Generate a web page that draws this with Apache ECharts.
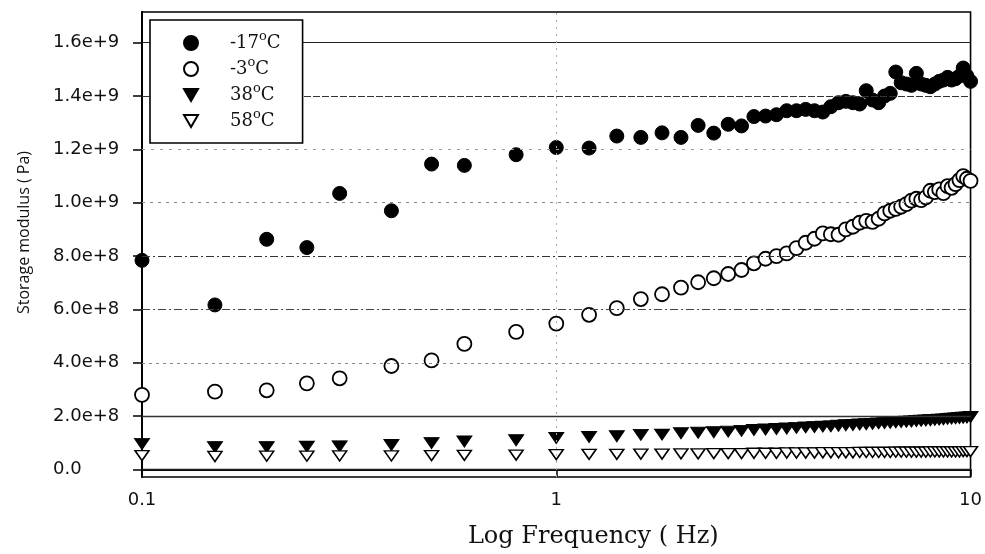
<!DOCTYPE html>
<html>
<head>
<meta charset="utf-8">
<script src="https://cdn.jsdelivr.net/npm/echarts@6/dist/echarts.min.js"></script>
<style>
html,body{margin:0;padding:0;background:#fff;}
#chart{width:985px;height:554px;}
</style>
</head>
<body>
<div id="chart"></div>
<script>
// Frequencies (Hz)
const freq = [0.1,0.15,0.2,0.25,0.3,0.4,0.5,0.6,0.8,
  1.0,1.2,1.4,1.6,1.8,2.0,2.2,2.4,2.6,2.8,3.0,
  3.2,3.4,3.6,3.8,4.0,4.2,4.4,4.6,4.8,5.0,
  5.2,5.4,5.6,5.8,6.0,6.2,6.4,6.6,6.8,7.0,
  7.2,7.4,7.6,7.8,8.0,8.2,8.4,8.6,8.8,9.0,
  9.2,9.4,9.6,9.8,10.0];

// Storage modulus (Pa)
const gMinus17 = [7.84e8,6.17e8,8.63e8,8.32e8,1.035e9,9.70e8,1.145e9,1.140e9,1.180e9,
  1.207e9,1.205e9,1.250e9,1.245e9,1.262e9,1.245e9,1.290e9,1.261e9,1.294e9,1.288e9,1.323e9,
  1.325e9,1.330e9,1.345e9,1.345e9,1.350e9,1.345e9,1.340e9,1.360e9,1.375e9,1.380e9,
  1.375e9,1.370e9,1.420e9,1.385e9,1.375e9,1.400e9,1.410e9,1.490e9,1.450e9,1.445e9,
  1.440e9,1.485e9,1.445e9,1.440e9,1.435e9,1.445e9,1.455e9,1.460e9,1.470e9,1.460e9,
  1.465e9,1.475e9,1.505e9,1.475e9,1.455e9];

const gMinus3 = [2.80e8,2.92e8,2.97e8,3.23e8,3.42e8,3.88e8,4.09e8,4.71e8,5.16e8,
  5.47e8,5.80e8,6.05e8,6.39e8,6.57e8,6.82e8,7.02e8,7.17e8,7.33e8,7.48e8,7.73e8,
  7.90e8,8.00e8,8.10e8,8.30e8,8.50e8,8.65e8,8.85e8,8.82e8,8.80e8,9.00e8,
  9.10e8,9.25e8,9.32e8,9.28e8,9.40e8,9.60e8,9.70e8,9.77e8,9.85e8,9.95e8,
  1.008e9,1.015e9,1.010e9,1.020e9,1.045e9,1.040e9,1.050e9,1.036e9,1.062e9,1.056e9,
  1.070e9,1.085e9,1.100e9,1.090e9,1.082e9];

const g38 = [9.6e7,8.4e7,8.4e7,8.6e7,8.7e7,9.2e7,9.9e7,1.05e8,1.10e8,
  1.18e8,1.22e8,1.25e8,1.30e8,1.31e8,1.36e8,1.38e8,1.40e8,1.42e8,1.45e8,1.48e8,
  1.50e8,1.52e8,1.54e8,1.56e8,1.58e8,1.59e8,1.61e8,1.62e8,1.64e8,1.66e8,
  1.67e8,1.69e8,1.70e8,1.71e8,1.73e8,1.74e8,1.75e8,1.77e8,1.78e8,1.79e8,
  1.80e8,1.82e8,1.83e8,1.84e8,1.85e8,1.86e8,1.87e8,1.88e8,1.90e8,1.91e8,
  1.92e8,1.93e8,1.94e8,1.95e8,1.97e8];

const g58 = [5.2e7,4.9e7,5.0e7,5.0e7,5.1e7,5.1e7,5.2e7,5.3e7,5.4e7,
  5.6e7,5.7e7,5.7e7,5.8e7,5.8e7,5.9e7,5.9e7,6.0e7,6.0e7,6.0e7,6.1e7,
  6.1e7,6.1e7,6.2e7,6.2e7,6.2e7,6.2e7,6.3e7,6.3e7,6.3e7,6.3e7,
  6.3e7,6.4e7,6.4e7,6.4e7,6.4e7,6.4e7,6.4e7,6.5e7,6.5e7,6.5e7,
  6.5e7,6.5e7,6.5e7,6.5e7,6.6e7,6.6e7,6.6e7,6.6e7,6.6e7,6.6e7,
  6.6e7,6.6e7,6.7e7,6.7e7,6.7e7];

const seriesNames = ['-17°C','-3°C','38°C','58°C'];

// Y tick values and labels
const yTickValues = [0,2e8,4e8,6e8,8e8,1.0e9,1.2e9,1.4e9,1.6e9];
const yTickLabels = ['0.0','2.0e+8','4.0e+8','6.0e+8','8.0e+8','1.0e+9','1.2e+9','1.4e+9','1.6e+9'];

// Gridline looks (per y tick, same order)
const gridLook = [
  {type:'solid', color:'#222', width:1.3},
  {type:'solid', color:'#333', width:1.3},
  {type:[3,4], color:'#888', width:1},
  {type:[8,3,2,3], color:'#444', width:1},
  {type:[8,3,2,3], color:'#333', width:1.2},
  {type:[3,5], color:'#888', width:1},
  {type:[3,6], color:'#999', width:1},
  {type:[7,2], color:'#333', width:1.2},
  {type:'solid', color:'#222', width:1.2}
];

const downTri = 'path://M0,0L10,0L5,8.66Z';

const chart = echarts.init(document.getElementById('chart'), null, {renderer:'canvas'});

function pairs(vals){ return freq.map((f,i)=>[f, vals[i]]); }

const gridLines = yTickValues.map((v,i)=>({yAxis:v, lineStyle:gridLook[i]}));
gridLines.push({xAxis:1, lineStyle:{type:[2,5], color:'#aaa', width:1}});

const option = {
  animation:false,
  backgroundColor:'#fff',
  grid:{left:142, right:12, top:12, bottom:74, show:true, borderColor:'#000', borderWidth:1.6, backgroundColor:'transparent'},
  xAxis:{
    type:'log', logBase:10, min:0.1, max:10,
    name:'Log Frequency ( Hz)', nameLocation:'middle', nameGap:48,
    nameTextStyle:{fontFamily:'DejaVu Serif', fontSize:24, color:'#111', padding:[0,0,0,74]},
    axisLine:{show:true, lineStyle:{color:'#000', width:1.8}},
    axisTick:{show:true, inside:false, length:7, lineStyle:{color:'#000', width:1.5}},
    minorTick:{show:false},
    axisLabel:{fontFamily:'DejaVu Sans', fontSize:18, color:'#111', margin:14},
    splitLine:{show:false}
  },
  yAxis:{
    type:'value', min:-2.8e7, max:1.715e9,
    name:'Storage modulus ( Pa)', nameLocation:'middle', nameGap:110, nameRotate:90,
    nameTextStyle:{fontFamily:'Open Sans', fontSize:16, color:'#111', padding:[0,0,0,24]},
    axisLine:{show:true, lineStyle:{color:'#000', width:2}},
    axisTick:{show:true, inside:false, length:9, customValues:yTickValues, lineStyle:{color:'#000', width:1.5}},
    axisLabel:{customValues:yTickValues, align:'left', margin:89, fontFamily:'DejaVu Sans', fontSize:18, color:'#111',
      formatter:function(v){ const k = yTickValues.indexOf(v); return k>=0 ? yTickLabels[k] : ''; }},
    splitLine:{show:false}
  },
  legend:{
    data:seriesNames,
    orient:'vertical', left:150, top:20,
    padding:[10,22,9,33],
    itemWidth:14, itemHeight:14, itemGap:0,
    backgroundColor:'#fff', borderColor:'#000', borderWidth:1.6,
    selectedMode:false,
    formatter:function(n){ return n.replace('°C','{sup|o}C'); },
    textStyle:{fontFamily:'DejaVu Serif', fontSize:18, color:'#111', lineHeight:26, padding:[0,0,0,27],
      rich:{sup:{fontFamily:'DejaVu Serif', fontSize:13, color:'#111', lineHeight:6, verticalAlign:'top'}}},
    z:10
  },
  series:[
    {type:'line', name:'grid', data:[], silent:true, z:1,
      markLine:{silent:true, symbol:['none','none'], label:{show:false}, animation:false, data:gridLines}},
    {type:'scatter', name:seriesNames[0], data:pairs(gMinus17), symbol:'circle', symbolSize:14, z:3,
      itemStyle:{color:'#000', borderColor:'#000', borderWidth:1, opacity:1}},
    {type:'scatter', name:seriesNames[1], data:pairs(gMinus3), symbol:'circle', symbolSize:14, z:3,
      itemStyle:{color:'#fff', borderColor:'#000', borderWidth:1.8, opacity:1}},
    {type:'scatter', name:seriesNames[2], data:pairs(g38), symbol:downTri, symbolSize:[15,11], z:3,
      itemStyle:{color:'#000', borderColor:'#000', borderWidth:1, opacity:1}},
    {type:'scatter', name:seriesNames[3], data:pairs(g58), symbol:downTri, symbolSize:[14,10], z:3,
      itemStyle:{color:'#fff', borderColor:'#000', borderWidth:1.5, opacity:1}}
  ]
};
chart.setOption(option);
</script>
</body>
</html>
